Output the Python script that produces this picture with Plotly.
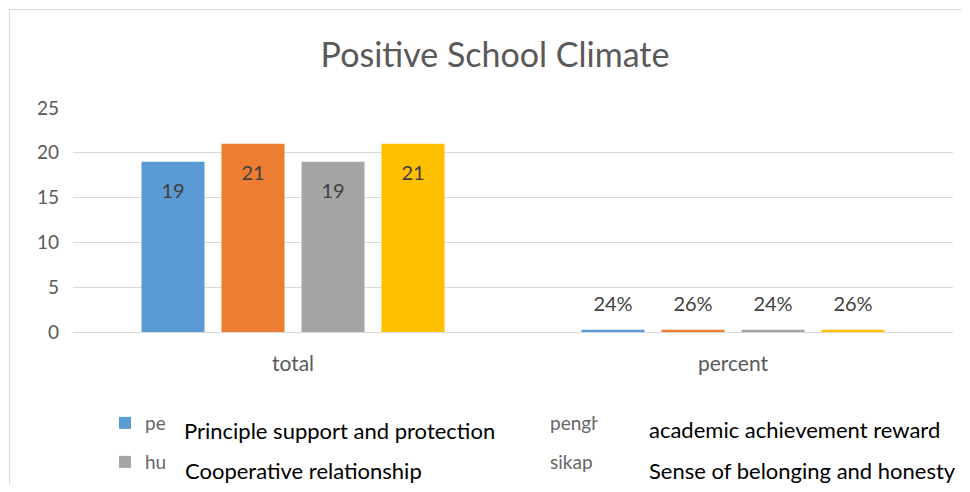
import plotly.graph_objects as go

categories = ["total", "percent"]
series_names = [
    "perlindungan dan dukungan kepala sekolah",
    "penghargaan prestasi akademik",
    "hubungan kerjasama",
    "sikap kebersamaan dan kejujuran",
]
english_names = [
    "Principle support and protection",
    "academic achievement reward",
    "Cooperative relationship",
    "Sense of belonging and honesty",
]
totals = [19, 21, 19, 21]
percents = [0.24, 0.26, 0.24, 0.26]
colors = ["#5B9BD5", "#ED7D31", "#A5A5A5", "#FFC000"]
y_ticks = [0, 5, 10, 15, 20, 25]

OFF = 8  # page body margin
WIN_W, WIN_H = 970, 492
W, H = WIN_W - 2 * OFF, WIN_H - 2 * OFF
# plot area in window pixels
PL, PR, PT, PB = 73, 953, 108, 332
ML, MT = PL - OFF, PT - OFF
MR, MB = W - (PR - OFF), H - (PB - OFF)
FONT = "Lato, Carlito, Calibri, sans-serif"
LABEL_FONT = dict(family=FONT, size=20, color="#404040")

fig = go.Figure()
legends = ["legend", "legend", "legend2", "legend2"]
for i, name in enumerate(series_names):
    fig.add_trace(go.Bar(
        name=name,
        x=categories,
        y=[totals[i], percents[i]],
        marker=dict(color=colors[i], line=dict(width=0)),
        offsetgroup=str(i),
        legend=legends[i],
        hoverinfo="x+y+name",
    ))
# data labels, aligned with the grouped bars
for i, name in enumerate(series_names):
    fig.add_trace(go.Scatter(
        x=[categories[0]], y=[totals[i]],
        mode="markers+text", text=[f"{totals[i]}"],
        textposition="bottom center",
        marker=dict(size=32, opacity=0),
        textfont=LABEL_FONT, offsetgroup=str(i),
        showlegend=False, hoverinfo="skip", cliponaxis=False,
    ))
    fig.add_trace(go.Scatter(
        x=[categories[1]], y=[percents[i]],
        mode="markers+text", text=[f"{percents[i]:.0%}"],
        textposition="top center",
        marker=dict(size=20, opacity=0),
        textfont=LABEL_FONT, offsetgroup=str(i),
        showlegend=False, hoverinfo="skip", cliponaxis=False,
    ))

plot_w = W - ML - MR
plot_h = H - MT - MB


def px_x(p):  # window pixel -> paper x
    return (p - OFF - ML) / plot_w


def px_y(p):  # window pixel -> paper y
    return (H - MB - (p - OFF)) / plot_h


legend_common = dict(
    orientation="h",
    xref="container", yref="container",
    xanchor="left", yanchor="middle",
    font=dict(family=FONT, size=19, color="#666666"),
    bgcolor="rgba(0,0,0,0)",
    itemwidth=30,
    entrywidth=360,
    entrywidthmode="pixels",
    traceorder="normal",
)

annotations = []
# white cover boxes laid over the legend labels (left edge, right edge, centre y)
covers = [(165, 549, 431), (597, 975, 430), (165, 549, 471), (597, 975, 471)]
for x0, x1, yc in covers:
    annotations.append(dict(
        text=" ", xref="paper", yref="paper",
        x=px_x(x0), y=px_y(yc), xanchor="left", yanchor="middle",
        showarrow=False, width=x1 - x0, height=32, bgcolor="white",
        borderpad=0, font=dict(family=FONT, size=10),
    ))
text_pos = [(183, 430), (648, 429), (184, 470), (648, 470)]
for (xp, yp), txt in zip(text_pos, english_names):
    annotations.append(dict(
        text=txt, xref="paper", yref="paper",
        x=px_x(xp), y=px_y(yp), xanchor="left", yanchor="middle",
        showarrow=False, align="left", borderpad=0,
        font=dict(family=FONT, size=22, color="#000000"),
    ))

fig.update_layout(
    width=W, height=H,
    margin=dict(l=ML, r=MR, t=MT, b=MB, pad=0),
    paper_bgcolor="white", plot_bgcolor="white",
    barmode="group", bargap=0.2727, bargroupgap=0.2125,
    scattermode="group", scattergap=0.2727,
    title=dict(
        text="Positive School Climate",
        x=(495 - OFF) / W, xref="container", xanchor="center",
        y=1 - (55 - OFF) / H, yref="container", yanchor="middle",
        font=dict(family=FONT, size=34, color="#595959"),
    ),
    xaxis=dict(
        showgrid=False, showline=True, linecolor="#d9d9d9", linewidth=1,
        ticks="", tickfont=dict(family=FONT, size=21, color="#595959"),
        ticklabelstandoff=13,
    ),
    yaxis=dict(
        range=[0, 25], tickvals=y_ticks, showgrid=True, gridcolor="#d9d9d9",
        gridwidth=1, zeroline=False, showline=False, ticks="",
        tickfont=dict(family=FONT, size=19, color="#595959"),
        ticklabelstandoff=13,
    ),
    showlegend=True,
    legend=dict(x=(105 - OFF) / W, y=1 - (423 - OFF) / H, **legend_common),
    legend2=dict(x=(105 - OFF) / W, y=1 - (462 - OFF) / H, **legend_common),
    annotations=annotations,
    shapes=[dict(
        type="rect", xref="paper", yref="paper",
        x0=px_x(9.5), x1=px_x(WIN_W + 5), y0=px_y(WIN_H + 5), y1=px_y(9.5),
        line=dict(color="#d9d9d9", width=1), fillcolor="rgba(0,0,0,0)",
        layer="below",
    )],
)

fig.write_html("out.html")
